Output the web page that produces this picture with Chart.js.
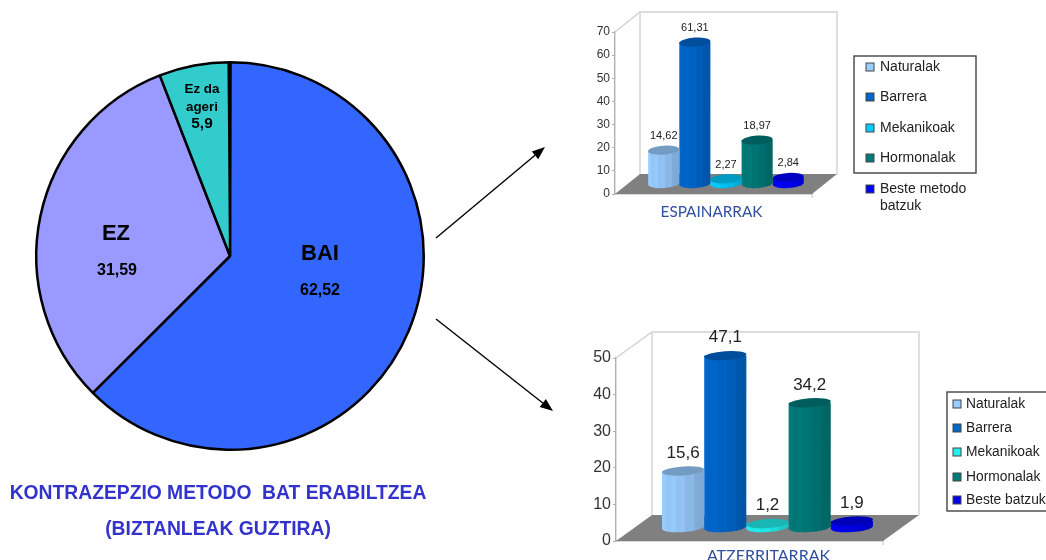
<!DOCTYPE html>
<html>
<head>
<meta charset="utf-8">
<title>Kontrazepzio metodoak</title>
<script src="https://cdn.jsdelivr.net/npm/chart.js@4"></script>
<style>
  html, body { margin: 0; padding: 0; background: #fff; overflow: hidden; }
  #page { position: relative; width: 1046px; height: 560px; overflow: hidden; }
  canvas { position: absolute; display: block; }
  #pie { left: 0; top: 0; }
  #spain { left: 590px; top: 0; filter: blur(0.45px); }
  #foreign { left: 590px; top: 325px; filter: blur(0.45px); }
</style>
</head>
<body>
<div id="page">
  <canvas id="pie" width="1046" height="560"></canvas>
  <canvas id="spain" width="456" height="225"></canvas>
  <canvas id="foreign" width="456" height="235"></canvas>
</div>
<script>
// Overall answers
const pieCategories = ['BAI', 'EZ', 'Ez da ageri'];
const pieValues = [62.52, 31.59, 5.9];
const pieColors = ['#3366FF', '#9999FF', '#33CCCC'];

// Methods used, by group
const spainLabels = ['Naturalak', 'Barrera', 'Mekanikoak', 'Hormonalak', 'Beste metodo batzuk'];
const spainValues = [14.62, 61.31, 2.27, 18.97, 2.84];
const spainTicks = [0, 10, 20, 30, 40, 50, 60, 70];

const foreignLabels = ['Naturalak', 'Barrera', 'Mekanikoak', 'Hormonalak', 'Beste batzuk'];
const foreignValues = [15.6, 47.1, 1.2, 34.2, 1.9];
const foreignTicks = [0, 10, 20, 30, 40, 50];

const spainColors = ['#99CCFF', '#0066CC', '#00CCFF', '#007A7A', '#0000FF'];
const foreignColors = ['#99CCFF', '#0066CC', '#22F0F0', '#007A7A', '#0000F0'];

const fontFamily = '"Liberation Sans", Arial, sans-serif';
const decimal = v => String(v).replace('.', ',');

function shade(hex, f) {
  const n = parseInt(hex.slice(1), 16);
  const c = [n >> 16 & 255, n >> 8 & 255, n & 255].map(v => Math.round(v * f));
  return `rgb(${c[0]},${c[1]},${c[2]})`;
}

// Room behind the bars: back wall, side wall and grey floor
const roomPlugin = {
  id: 'room',
  beforeDatasetsDraw(chart, args, o) {
    const { ctx, chartArea: a } = chart;
    const dx = o.depthX, dy = o.depthY;
    ctx.save();
    ctx.fillStyle = '#808080';
    ctx.beginPath();
    ctx.moveTo(a.left, a.bottom);
    ctx.lineTo(a.right, a.bottom);
    ctx.lineTo(a.right + dx, a.bottom - dy);
    ctx.lineTo(a.left + dx, a.bottom - dy);
    ctx.closePath();
    ctx.fill();
    ctx.strokeStyle = '#D2D2D2';
    ctx.lineWidth = 1.4;
    ctx.beginPath();
    ctx.moveTo(a.left, a.top);
    ctx.lineTo(a.left + dx, a.top - dy);
    ctx.lineTo(a.right + dx, a.top - dy);
    ctx.lineTo(a.right + dx, a.bottom - dy);
    ctx.moveTo(a.left + dx, a.top - dy);
    ctx.lineTo(a.left + dx, a.bottom - dy);
    ctx.moveTo(a.right, a.bottom);
    ctx.lineTo(a.right, a.bottom + 4);
    ctx.stroke();
    ctx.restore();
  }
};

// Fluted cylinders standing mid-way across the floor, with value labels on top
const cylinderPlugin = {
  id: 'cylinder',
  beforeDatasetDraw(chart, args, o) {
    const { ctx } = chart;
    const el = args.meta.data[0];
    const ds = chart.data.datasets[args.index];
    const color = ds.backgroundColor;
    const w = el.width;
    const cx = el.x + o.depthX / 2;
    const top = el.y - o.depthY / 2;
    const bottom = el.base - o.depthY / 2;
    const left = cx - w / 2, right = cx + w / 2;
    const ry = o.ry, tilt = -0.07;
    ctx.save();
    ctx.beginPath();
    ctx.moveTo(left, top);
    ctx.lineTo(left, bottom);
    ctx.ellipse(cx, bottom, w / 2, ry, tilt, Math.PI, 0, true);
    ctx.lineTo(right, top);
    ctx.closePath();
    ctx.save();
    ctx.clip();
    const strips = 9;
    for (let i = 0; i < strips; i++) {
      const t = i / (strips - 1);
      const f = 1.0 - 0.17 * t * t - (i % 2 ? 0.03 : 0);
      ctx.fillStyle = shade(color, f);
      ctx.fillRect(left + i * w / strips - 0.5, top - ry - 1, w / strips + 1, bottom - top + 2 * ry + 3);
    }
    ctx.restore();
    ctx.beginPath();
    ctx.ellipse(cx, top, w / 2, ry, tilt, 0, Math.PI * 2);
    ctx.fillStyle = shade(color, 0.76);
    ctx.fill();
    ctx.fillStyle = '#222';
    ctx.font = `${o.labelSize}px ${fontFamily}`;
    ctx.textAlign = 'center';
    ctx.textBaseline = 'middle';
    ctx.fillText(decimal(ds.data[0]), cx, top - o.labelGap);
    ctx.restore();
    return false;
  }
};

// Boxed legend; a long label wraps onto a second line
const boxLegendPlugin = {
  id: 'boxLegend',
  afterDraw(chart, args, o) {
    const { ctx } = chart;
    ctx.save();
    ctx.strokeStyle = '#444';
    ctx.lineWidth = 1.4;
    ctx.strokeRect(o.x, o.y, o.w, o.h);
    ctx.font = `${o.size}px ${fontFamily}`;
    ctx.textBaseline = 'middle';
    chart.data.datasets.forEach((ds, i) => {
      const y = o.rows[i];
      ctx.fillStyle = ds.backgroundColor;
      ctx.strokeStyle = '#444';
      ctx.lineWidth = 1;
      ctx.fillRect(o.swatchX, y - 4, 8, 8);
      ctx.strokeRect(o.swatchX, y - 4, 8, 8);
      ctx.fillStyle = '#222';
      const cut = ds.label.lastIndexOf(' ');
      if (o.wrap && ctx.measureText(ds.label).width > o.wrap) {
        ctx.fillText(ds.label.slice(0, cut), o.textX, y);
        ctx.fillText(ds.label.slice(cut + 1), o.textX, y + o.lineGap);
      } else {
        ctx.fillText(ds.label, o.textX, y);
      }
    });
    ctx.restore();
  }
};

function barChart(id, labels, values, colors, ticks, category, opt) {
  const datasets = labels.map((label, i) => ({
    label, data: [values[i]], backgroundColor: colors[i]
  }));
  new Chart(document.getElementById(id), {
    type: 'bar',
    data: { labels: [category], datasets },
    plugins: [roomPlugin, cylinderPlugin, boxLegendPlugin],
    options: {
      responsive: false,
      animation: false,
      devicePixelRatio: 1,
      datasets: { bar: { categoryPercentage: 0.79, barPercentage: 1 } },
      layout: { padding: opt.padding },
      plugins: {
        legend: { display: false },
        tooltip: { enabled: false },
        room: opt.depth,
        cylinder: Object.assign({}, opt.depth, opt.cyl),
        boxLegend: opt.legend
      },
      scales: {
        x: {
          afterFit(s) { s.height = opt.xHeight; },
          grid: { display: false },
          border: { color: '#B0B0B0', width: 1.4 },
          ticks: {
            color: '#2F4F9F',
            font: { family: 'Lato, sans-serif', size: opt.xSize },
            padding: opt.xPad,
            labelOffset: opt.xOffset,
            maxRotation: 0
          }
        },
        y: {
          min: ticks[0],
          max: ticks[ticks.length - 1],
          afterFit(s) { s.width = opt.yWidth; },
          afterBuildTicks(s) { s.ticks = ticks.map(value => ({ value })); },
          grid: { drawOnChartArea: false, color: '#B0B0B0', tickLength: 3 },
          border: { color: '#B0B0B0', width: 1.4 },
          ticks: {
            color: '#333',
            font: { family: fontFamily, size: opt.ySize },
            padding: 2
          }
        }
      }
    }
  });
}

barChart('spain', spainLabels, spainValues, spainColors, spainTicks, 'ESPAINARRAK', {
  padding: { left: 0, top: 32, right: 234, bottom: 0 },
  depth: { depthX: 25, depthY: 20 },
  cyl: { ry: 4.5, labelSize: 11, labelGap: 14 },
  xHeight: 31, xSize: 15.3, xPad: 1, xOffset: -2,
  yWidth: 25, ySize: 12,
  legend: {
    x: 264, y: 56, w: 122, h: 117, size: 14, swatchX: 276, textX: 290,
    rows: [67, 97, 128, 158, 189], wrap: 100, lineGap: 17
  }
});

barChart('foreign', foreignLabels, foreignValues, foreignColors, foreignTicks, 'ATZERRITARRAK', {
  padding: { left: 0, top: 33, right: 163, bottom: 0 },
  depth: { depthX: 36, depthY: 26 },
  cyl: { ry: 4.5, labelSize: 17, labelGap: 18 },
  xHeight: 19, xSize: 16, xPad: -3, xOffset: 19,
  yWidth: 26, ySize: 16,
  legend: {
    x: 357, y: 67, w: 110, h: 119, size: 13.8, swatchX: 363, textX: 376,
    rows: [79, 103, 127, 152, 175]
  }
});

// Arrows leading from the pie to the two breakdowns
function arrow(ctx, x0, y0, x1, y1) {
  const a = Math.atan2(y1 - y0, x1 - x0), len = 13, half = 5;
  const bx = x1 - len * Math.cos(a), by = y1 - len * Math.sin(a);
  ctx.strokeStyle = ctx.fillStyle = '#000';
  ctx.lineWidth = 1.4;
  ctx.beginPath();
  ctx.moveTo(x0, y0);
  ctx.lineTo(bx, by);
  ctx.stroke();
  ctx.beginPath();
  ctx.moveTo(x1, y1);
  ctx.lineTo(bx - half * Math.sin(a), by + half * Math.cos(a));
  ctx.lineTo(bx + half * Math.sin(a), by - half * Math.cos(a));
  ctx.closePath();
  ctx.fill();
}

// Slice captions, the narrow dark wedge at twelve o'clock, arrows and heading
const pieDecorPlugin = {
  id: 'pieDecor',
  afterDraw(chart) {
    const { ctx } = chart;
    const arc = chart.getDatasetMeta(0).data[0];
    const a = arc.startAngle, r = arc.outerRadius;
    const tipX = arc.x + r * Math.cos(a), tipY = arc.y + r * Math.sin(a);
    ctx.save();
    ctx.fillStyle = '#000';
    ctx.beginPath();
    ctx.moveTo(arc.x - 0.8, arc.y);
    ctx.lineTo(tipX - 2.6, tipY);
    ctx.lineTo(tipX + 1.6, tipY);
    ctx.lineTo(arc.x + 0.8, arc.y);
    ctx.closePath();
    ctx.fill();

    ctx.textAlign = 'center';
    ctx.textBaseline = 'middle';
    const put = (text, x, y, size) => {
      ctx.font = `bold ${size}px ${fontFamily}`;
      ctx.fillText(text, x, y);
    };
    put(pieCategories[0], 320, 254, 22);
    put(decimal(pieValues[0]), 320, 291, 16);
    put(pieCategories[1], 116, 234, 22);
    put(decimal(pieValues[1]), 117, 271, 16);
    const [first, second] = [pieCategories[2].slice(0, 5), pieCategories[2].slice(6)];
    put(first, 202, 89, 13.4);
    put(second, 202, 107, 13.4);
    put(decimal(pieValues[2]), 202, 124, 15.4);

    arrow(ctx, 436, 238, 545, 147);
    arrow(ctx, 436, 319, 553, 411);

    ctx.fillStyle = '#3333CC';
    ctx.font = `bold 19.3px ${fontFamily}`;
    ctx.fillText('KONTRAZEPZIO METODO  BAT ERABILTZEA', 218, 494);
    ctx.fillText('(BIZTANLEAK GUZTIRA)', 218, 530);
    ctx.restore();
  }
};

new Chart(document.getElementById('pie'), {
  type: 'pie',
  data: {
    labels: pieCategories,
    datasets: [{
      data: pieValues,
      backgroundColor: pieColors,
      borderColor: '#000',
      borderWidth: 2.5
    }]
  },
  plugins: [pieDecorPlugin],
  options: {
    responsive: false,
    animation: false,
    devicePixelRatio: 1,
    layout: { padding: { left: 35, top: 61, right: 621, bottom: 109 } },
    plugins: { legend: { display: false }, tooltip: { enabled: false } }
  }
});
</script>
</body>
</html>
